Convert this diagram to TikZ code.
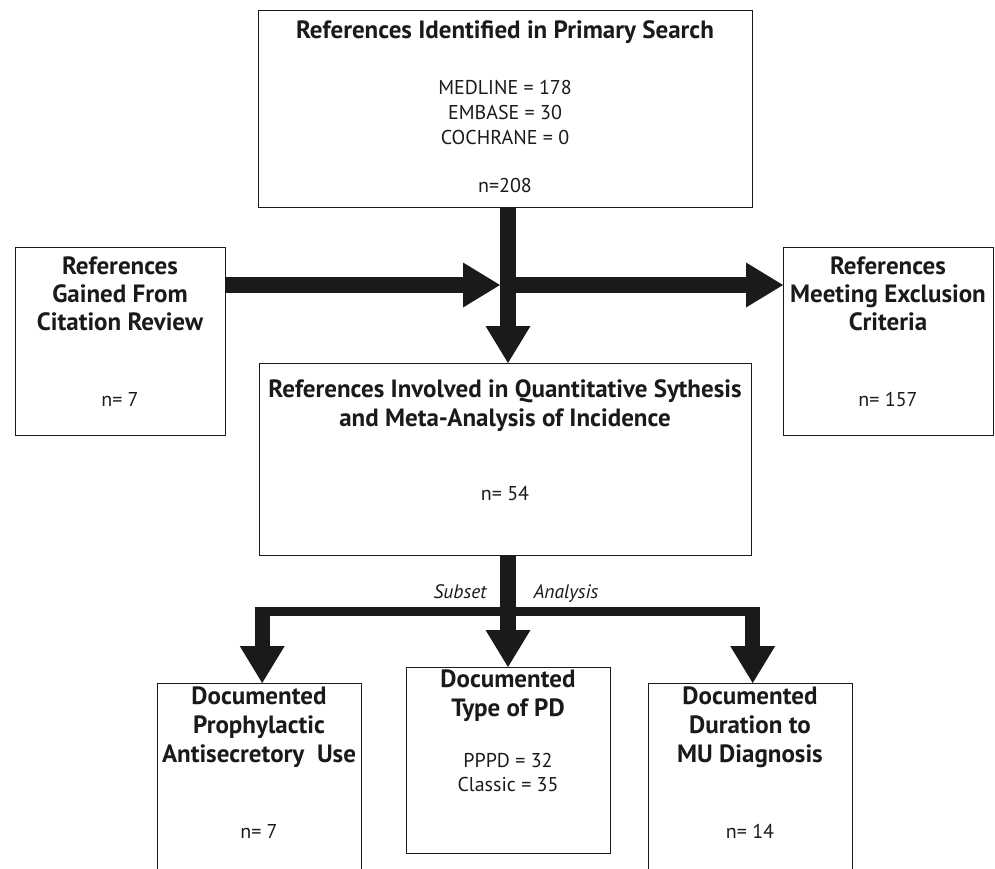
\documentclass[tikz,border=0pt]{standalone}
\usepackage{fontspec}
\setmainfont{PT Sans}
\usetikzlibrary{arrows.meta}
\definecolor{ink}{HTML}{1A1A1A}
\begin{document}
\begin{tikzpicture}[x=1pt,y=-1pt,
  box/.style={draw=ink, line width=1.4pt, rectangle, inner sep=0pt, anchor=north west},
  hd/.style={anchor=base, inner sep=0pt, font=\fontsize{25}{29}\selectfont\bfseries, text=ink},
  tx/.style={anchor=base, inner sep=0pt, font=\fontsize{20}{24}\selectfont, text=ink},
  lbl/.style={anchor=base, inner sep=0pt, font=\fontsize{19.5}{22}\selectfont\itshape, text=ink},
  bigarrow/.style={draw=ink, line width=16pt, -{Triangle[width=45pt,length=37pt,line width=0pt]}},
  legarrow/.style={draw=ink, line width=15pt, -{Triangle[width=45pt,length=37pt,line width=0pt]}},
]
\useasboundingbox (0,0) rectangle (995,868);

% boxes
\node[box, minimum width=494pt, minimum height=197pt] (tb) at (258,10) {};
\node[box, minimum width=210pt, minimum height=188pt] (lb) at (15,247) {};
\node[box, minimum width=210pt, minimum height=188pt] (rb) at (783,247) {};
\node[box, minimum width=492pt, minimum height=192pt] (mb) at (259,363) {};
\node[box, minimum width=204pt, minimum height=200pt] (bl) at (157,683) {};
\node[box, minimum width=204pt, minimum height=186pt] (bm) at (406,667) {};
\node[box, minimum width=204pt, minimum height=200pt] (br) at (648,683) {};

% texts: top box
\node[hd] at (505,38) {References Identified in Primary Search};
\node[tx] at (505,94) {MEDLINE = 178};
\node[tx] at (505,119) {EMBASE = 30};
\node[tx] at (505,144) {COCHRANE = 0};
\node[tx] at (505,192) {n=208};

% left box
\node[hd] at (120,274) {References};
\node[hd] at (120,302) {Gained From};
\node[hd] at (120,330) {Citation Review};
\node[tx] at (120,406) {n= 7};

% right box
\node[hd] at (888,274) {References};
\node[hd] at (888,302) {Meeting Exclusion};
\node[hd] at (888,330) {Criteria};
\node[tx] at (888,406) {n= 157};

% middle box
\node[hd] at (505,397) {References Involved in Quantitative Sythesis};
\node[hd] at (505,426) {and Meta-Analysis of Incidence};
\node[tx] at (505,500) {n= 54};

% bottom left
\node[hd] at (259,704) {Documented};
\node[hd] at (259,733) {Prophylactic};
\node[hd] at (259,762) {Antisecretory\ \ Use};
\node[tx] at (259,838) {n= 7};

% bottom middle
\node[hd] at (508,687) {Documented};
\node[hd] at (508,716) {Type of PD};
\node[tx] at (508,767) {PPPD = 32};
\node[tx] at (508,791) {Classic = 35};

% bottom right
\node[hd] at (750,704) {Documented};
\node[hd] at (750,733) {Duration to};
\node[hd] at (750,762) {MU Diagnosis};
\node[tx] at (750,838) {n= 14};

% subset analysis labels
\node[lbl] at (460,598) {Subset};
\node[lbl] at (566,598) {Analysis};

% connectors
\coordinate (J) at (508,285);
\coordinate (Jl) at (500,285);
\coordinate (bar) at (508,611.5);
\coordinate (bartop) at (508,607);

\draw[bigarrow] (tb.south -| J) -- (mb.north -| J);
\draw[bigarrow] (lb.east |- J) -- (Jl);
\draw[bigarrow] (J) -- (rb.west |- J);

\draw[bigarrow] (mb.south -| J) -- (bm.north -| J);
\draw[draw=ink, line width=9.5pt] ([xshift=-5pt]bl.north |- bar) -- ([xshift=9.5pt]br.north |- bar);
\draw[legarrow] ([xshift=2.5pt]bl.north |- bartop) -- ([xshift=2.5pt]bl.north);
\draw[legarrow] ([xshift=2pt]br.north |- bartop) -- ([xshift=2pt]br.north);
\end{tikzpicture}
\end{document}
